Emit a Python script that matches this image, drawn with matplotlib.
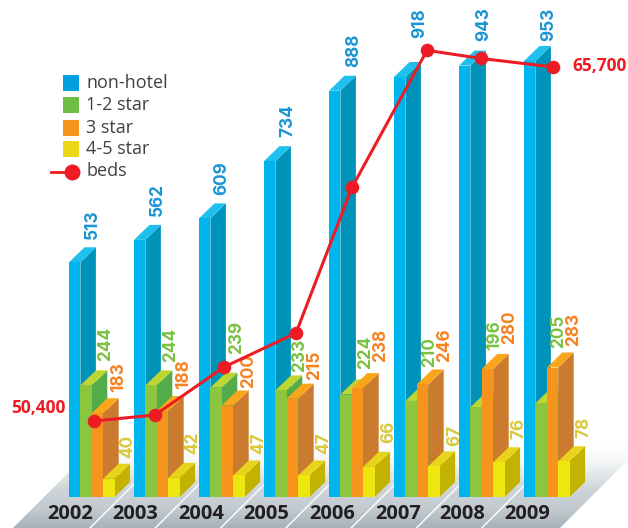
import numpy as np
import matplotlib
matplotlib.use("Agg")
import matplotlib.pyplot as plt
from matplotlib.colors import LinearSegmentedColormap
from matplotlib.patches import Polygon, Rectangle
from matplotlib.transforms import Affine2D

plt.rcParams['font.family'] = ['Open Sans', 'DejaVu Sans']

# ---- data ----
years = [2002, 2003, 2004, 2005, 2006, 2007, 2008, 2009]
non_hotel = [513, 562, 609, 734, 888, 918, 943, 953]
star_1_2 = [244, 244, 239, 233, 224, 210, 196, 205]
star_3 = [183, 188, 200, 215, 238, 246, 280, 283]
star_4_5 = [40, 42, 47, 47, 66, 67, 76, 78]
beds = [50400, 50660, 52730, 54200, 60500, 66420, 66070, 65700]
series_names = ['non-hotel', '1-2 star', '3 star', '4-5 star']

# ---- layout (pixels) ----
W, H = 628, 528
BASE = 497
SCALE = 0.4575
GROUP0, GROUP_STEP = 69, 65
BAR_W, DX, DY = 11.4, 15.5, 15
LABEL_SHIFT = 1.5
bed_dx = [25, 21, 25, 32, 23, 33, 22, 29]
year_cx = [70, 135, 201, 266, 332, 398, 462, 527]

# label anchors: (centre x, bottom y)
lab_blue = [(90.7, 239), (155.7, 216), (220.5, 195), (286, 137), (352.7, 67), (418, 38), (482, 41), (547, 41)]
lab_green = [(104, 361), (169, 362), (235, 354), (298, 372), (364, 369), (428, 367), (493, 350), (557, 348)]
lab_orange = [(117.5, 392), (182, 389), (247, 388), (313, 380), (379, 362), (443, 362), (508, 344), (572, 346)]
lab_yellow = [(126, 458), (191, 454), (257, 454), (322, 454), (387, 443), (453, 446), (517, 439), (582, 438)]

styles = [
    dict(front='#00b4ee', top='#1fbfee', side='#0093b9', text='#1b95d3', leg='#00a0e0'),
    dict(front='#8cc63f', top='#bdd631', side='#54ab4a', text='#7ac143', leg='#6fbe44'),
    dict(front='#f7941d', top='#faa61a', side='#cb7b2d', text='#f58220', leg='#f7941d'),
    dict(front='#eee70f', top='#e9d41c', side='#c3b300', text='#d9c93c', leg='#ead818'),
]
series = [non_hotel, star_1_2, star_3, star_4_5]
labels = [lab_blue, lab_green, lab_orange, lab_yellow]

fig = plt.figure(figsize=(W / 100, H / 100), dpi=100)
ax = fig.add_axes([0, 0, 1, 1])
ax.set_xlim(0, W)
ax.set_ylim(-(H - BASE) / SCALE, BASE / SCALE)
ax.axis('off')
px = Affine2D().scale(1, -1).translate(0, H)   # pixel coordinates, y down


def v(py):
    return (BASE - py) / SCALE


# ---- floor ----
cmap = LinearSegmentedColormap.from_list('floor', [
    (0.0, '#ffffff'), (0.22, '#f4f6f7'), (0.55, '#cdd4d9'), (0.78, '#c2cad0'), (1.0, '#a6b1b9')])
grad = np.linspace(0, 1, 256).reshape(-1, 1)
FLOOR_TOP = 445
im = ax.imshow(grad, cmap=cmap, extent=(0, W, v(H), v(FLOOR_TOP)), aspect='auto', zorder=1, origin='upper')
floor = Polygon([(13, v(H)), (560, v(H)), (560 + H - FLOOR_TOP, v(FLOOR_TOP)), (13 + H - FLOOR_TOP, v(FLOOR_TOP))],
                closed=True, transform=ax.transData, fc='none', ec='none')
ax.add_patch(floor)
im.set_clip_path(floor)
ax.set_xlim(0, W)
ax.set_ylim(-(H - BASE) / SCALE, BASE / SCALE)
for i in range(1, len(years)):
    x0 = 90 + 65.3 * (i - 1)
    ax.plot([x0, x0 + 50], [v(H), v(H - 50)], color='white', lw=1.0, zorder=1.5)

# ---- bars ----
for i in range(len(years)):
    gx = GROUP0 + GROUP_STEP * i
    for s, (vals, st) in enumerate(zip(series, styles)):
        x0 = gx + s * BAR_W
        x1 = x0 + BAR_W
        h = vals[i]
        dy = DY / SCALE
        z = 2 + i * 0.01 + s * 0.001
        ax.add_patch(Polygon([(x1, 0), (x1 + DX, dy), (x1 + DX, h + dy), (x1, h)], fc=st['side'], ec='none', zorder=z))
        ax.add_patch(Polygon([(x0, h), (x1, h), (x1 + DX, h + dy), (x0 + DX, h + dy)], fc=st['top'], ec='none', zorder=z))
        ax.add_patch(Rectangle((x0, 0), BAR_W, h, fc=st['front'], ec='none', zorder=z))

# ---- value labels ----
for vals, st, anchors in zip(series, styles, labels):
    for val, (lx, ly) in zip(vals, anchors):
        ax.text(lx + LABEL_SHIFT, ly, str(val), transform=px, rotation=90, ha='center', va='bottom',
                family=['Inter', 'Open Sans'], fontsize=12.4, fontweight='bold', color=st['text'], zorder=4)

# ---- year labels ----
for y, cx in zip(years, year_cx):
    ax.text(cx, 514, str(y), transform=px, ha='center', va='center', fontsize=14.4,
            fontweight='bold', color='#231f20', zorder=4)

# ---- beds line (own scale) ----
ax2 = fig.add_axes([0, 0, 1, 1], sharex=ax)
ax2.axis('off')
ax2.patch.set_alpha(0)
BEDS_PER_PX = (65700 - 50400) / (421 - 67)
ax2.set_ylim(50400 - (H - 421) * BEDS_PER_PX, 50400 + 421 * BEDS_PER_PX)
bed_x = [GROUP0 + GROUP_STEP * i + d for i, d in enumerate(bed_dx)]
ax2.plot(bed_x, beds, color='#ed1c24', lw=2.2, marker='o', ms=9.8, mec='none', solid_capstyle='round')
ax2.text(11, 408, f'{beds[0]:,}', transform=px, ha='left', va='center', fontsize=12.5,
         fontweight='bold', color='#ed1c24')
ax2.text(572, 66, f'{beds[-1]:,}', transform=px, ha='left', va='center', fontsize=12.5,
         fontweight='bold', color='#ed1c24')

# ---- legend ----
leg_y = [83, 105, 128, 149]
for name, st, ly in zip(series_names, styles, leg_y):
    ax2.add_patch(Rectangle((63, ly - 8), 16, 16, transform=px, fc=st['leg'], ec='none'))
    ax2.text(86, ly, name, transform=px, ha='left', va='center', fontsize=13, color='#414042')
ax2.plot([51, 72], [172, 172], transform=px, color='#ed1c24', lw=2.0)
ax2.plot([72], [172], transform=px, marker='o', ms=11.5, mec='none', color='#ed1c24')
ax2.text(86, 171, 'beds', transform=px, ha='left', va='center', fontsize=13, color='#414042')

fig.savefig('out.png', dpi=100)
